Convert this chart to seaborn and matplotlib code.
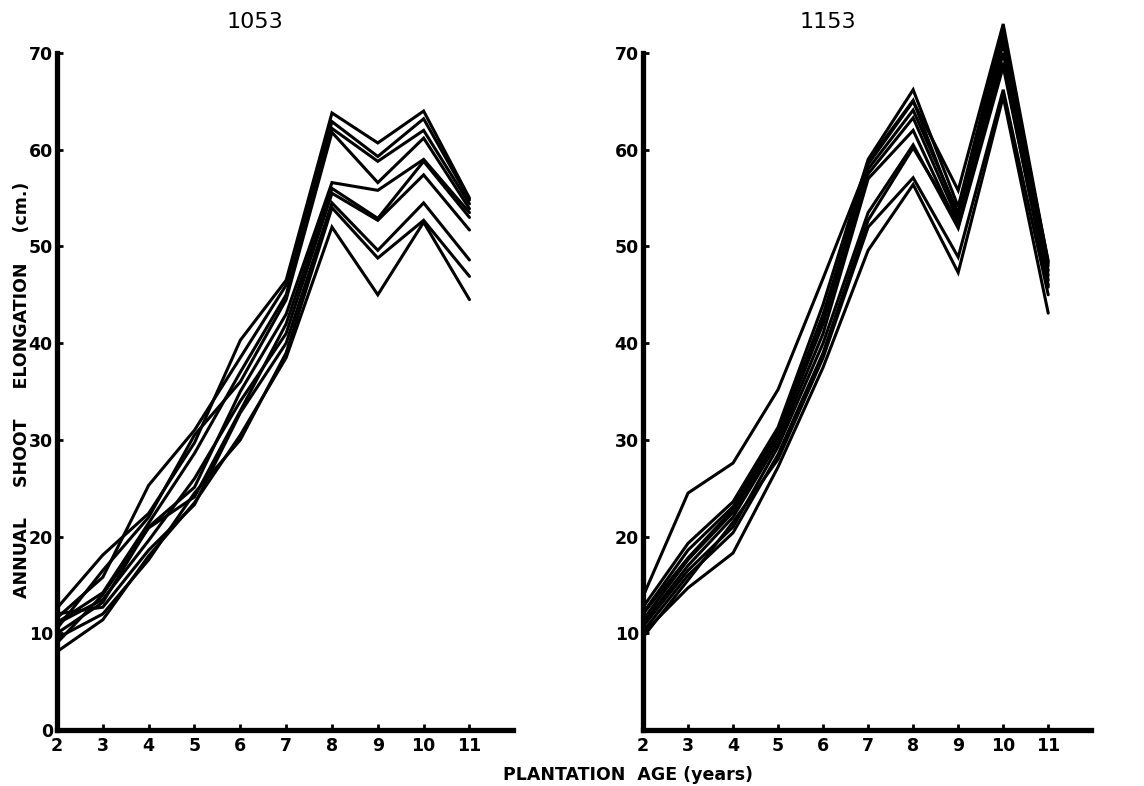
import numpy as np
import pandas as pd
import matplotlib
matplotlib.use("Agg")
import matplotlib.pyplot as plt
import seaborn as sns

sns.set_theme(style="white")
plt.rcParams['font.family'] = ['DejaVu Sans']
plt.rcParams['text.color'] = 'black'
plt.rcParams['axes.labelcolor'] = 'black'
plt.rcParams['xtick.color'] = 'black'
plt.rcParams['ytick.color'] = 'black'

years = [2, 3, 4, 5, 6, 7, 8, 9, 10, 11]
x_ticks = [2, 3, 4, 5, 6, 7, 8, 9, 10, 11]
left_yticks = [0, 10, 20, 30, 40, 50, 60, 70]
right_yticks = [10, 20, 30, 40, 50, 60, 70]

# Clone 1053 -- annual shoot elongation (cm) per tree
c1053_a = [12.6, 18.1, 22.4, 29.7, 40.3, 46.5, 63.8, 60.7, 64.0, 55.0]
c1053_b = [11.6, 15.8, 25.3, 31.0, 38.5, 46.0, 62.9, 59.3, 63.2, 54.8]
c1053_c = [11.1, 14.2, 21.4, 28.6, 37.0, 45.0, 62.2, 58.8, 62.0, 54.4]
c1053_d = [10.5, 16.5, 22.0, 30.5, 36.0, 44.5, 61.8, 56.6, 61.2, 53.9]
c1053_e = [10.0, 13.2, 21.0, 25.1, 35.0, 43.0, 56.6, 55.8, 59.0, 53.5]
c1053_f = [9.0, 14.0, 20.9, 24.1, 33.0, 42.0, 56.0, 52.9, 58.8, 53.0]
c1053_g = [11.0, 13.5, 19.6, 26.0, 34.0, 41.0, 55.5, 52.7, 57.4, 51.7]
c1053_h = [12.0, 12.7, 18.6, 23.3, 32.8, 40.0, 54.5, 49.6, 54.5, 48.6]
c1053_i = [9.5, 12.0, 17.6, 24.5, 30.0, 39.0, 54.0, 48.8, 52.7, 46.9]
c1053_j = [8.1, 11.4, 18.0, 23.5, 30.5, 38.5, 52.0, 45.0, 52.5, 44.5]

# Clone 1153
c1153_a = [13.8, 24.5, 27.6, 35.2, 46.7, 58.5, 65.0, 55.8, 73.0, 48.3]
c1153_b = [12.7, 19.3, 23.6, 31.3, 44.0, 59.0, 66.2, 54.1, 72.5, 48.0]
c1153_c = [12.1, 18.6, 23.1, 30.8, 43.0, 58.0, 64.1, 53.5, 72.0, 47.5]
c1153_d = [11.4, 17.6, 22.5, 30.3, 42.0, 57.5, 63.3, 52.7, 71.0, 47.0]
c1153_e = [11.0, 17.0, 22.0, 29.8, 41.0, 57.0, 62.0, 52.0, 70.0, 46.5]
c1153_f = [10.7, 16.5, 21.0, 29.3, 40.0, 53.5, 60.5, 51.9, 68.6, 46.0]
c1153_g = [10.2, 16.0, 20.4, 28.5, 39.0, 52.7, 60.2, 52.5, 69.0, 45.8]
c1153_h = [9.6, 15.5, 21.5, 28.0, 38.5, 52.0, 57.1, 48.9, 66.2, 45.0]
c1153_i = [10.0, 14.7, 18.3, 27.2, 37.5, 49.6, 56.4, 47.3, 65.5, 43.1]
c1153_j = [12.0, 17.8, 22.8, 31.0, 42.5, 58.8, 65.1, 53.0, 71.5, 48.5]

panels = {
    "1053": [c1053_a, c1053_b, c1053_c, c1053_d, c1053_e,
             c1053_f, c1053_g, c1053_h, c1053_i, c1053_j],
    "1153": [c1153_a, c1153_b, c1153_c, c1153_d, c1153_e,
             c1153_f, c1153_g, c1153_h, c1153_i, c1153_j],
}

def to_long(series_list):
    rows = []
    for k, s in enumerate(series_list):
        for yr, v in zip(years, s):
            rows.append({"tree": k, "age": yr, "elong": v})
    return pd.DataFrame(rows)

fig = plt.figure(figsize=(11.44, 7.86), dpi=100)
ax1 = fig.add_axes([57 / 1144, 1 - 730 / 786, (513 - 57) / 1144, (730 - 53) / 786])
ax2 = fig.add_axes([643 / 1144, 1 - 730 / 786, (1091 - 643) / 1144, (730 - 53) / 786])

for ax, (name, series), yt in [(ax1, list(panels.items())[0], left_yticks),
                              (ax2, list(panels.items())[1], right_yticks)]:
    df = to_long(series)
    sns.lineplot(data=df, x="age", y="elong", units="tree", estimator=None,
                 color="black", linewidth=2.2, ax=ax, legend=False)
    for ln in ax.get_lines():
        ln.set_clip_on(False)
        ln.set_solid_joinstyle("miter")
    ax.set_xlim(2, 11.95)
    ax.set_ylim(0, 70)
    ax.set_xticks(x_ticks)
    ax.set_xticklabels([str(t) for t in x_ticks], fontsize=12.5, fontweight="bold",
                       color="black")
    ax.set_yticks(yt)
    ax.set_yticklabels([str(t) for t in yt], fontsize=12.5, fontweight="bold",
                       color="black")
    ax.set_xlabel("")
    ax.set_ylabel("")
    for side in ["top", "right"]:
        ax.spines[side].set_visible(False)
    for side in ["left", "bottom"]:
        ax.spines[side].set_linewidth(3.8)
        ax.spines[side].set_color("black")
    ax.tick_params(axis="both", direction="in", length=4, width=2.0,
                   colors="black", pad=5, left=True, bottom=True)
    ax.tick_params(axis="y", pad=3)
    ax.grid(False)

fig.text(255 / 1144, 1 - 22 / 786, "1053", ha="center", va="center", fontsize=16,
         color="black")
fig.text(828 / 1144, 1 - 22 / 786, "1153", ha="center", va="center", fontsize=16,
         color="black")
fig.text(22 / 1144, 1 - 390 / 786, "ANNUAL     SHOOT     ELONGATION     (cm.)",
         rotation=90, ha="center", va="center", fontsize=12.5, fontweight="bold",
         color="black")
fig.text(628 / 1144, 1 - 775 / 786, "PLANTATION  AGE (years)",
         ha="center", va="center", fontsize=12.5, fontweight="bold", color="black")

fig.savefig("out.png", dpi=100, facecolor="white")
